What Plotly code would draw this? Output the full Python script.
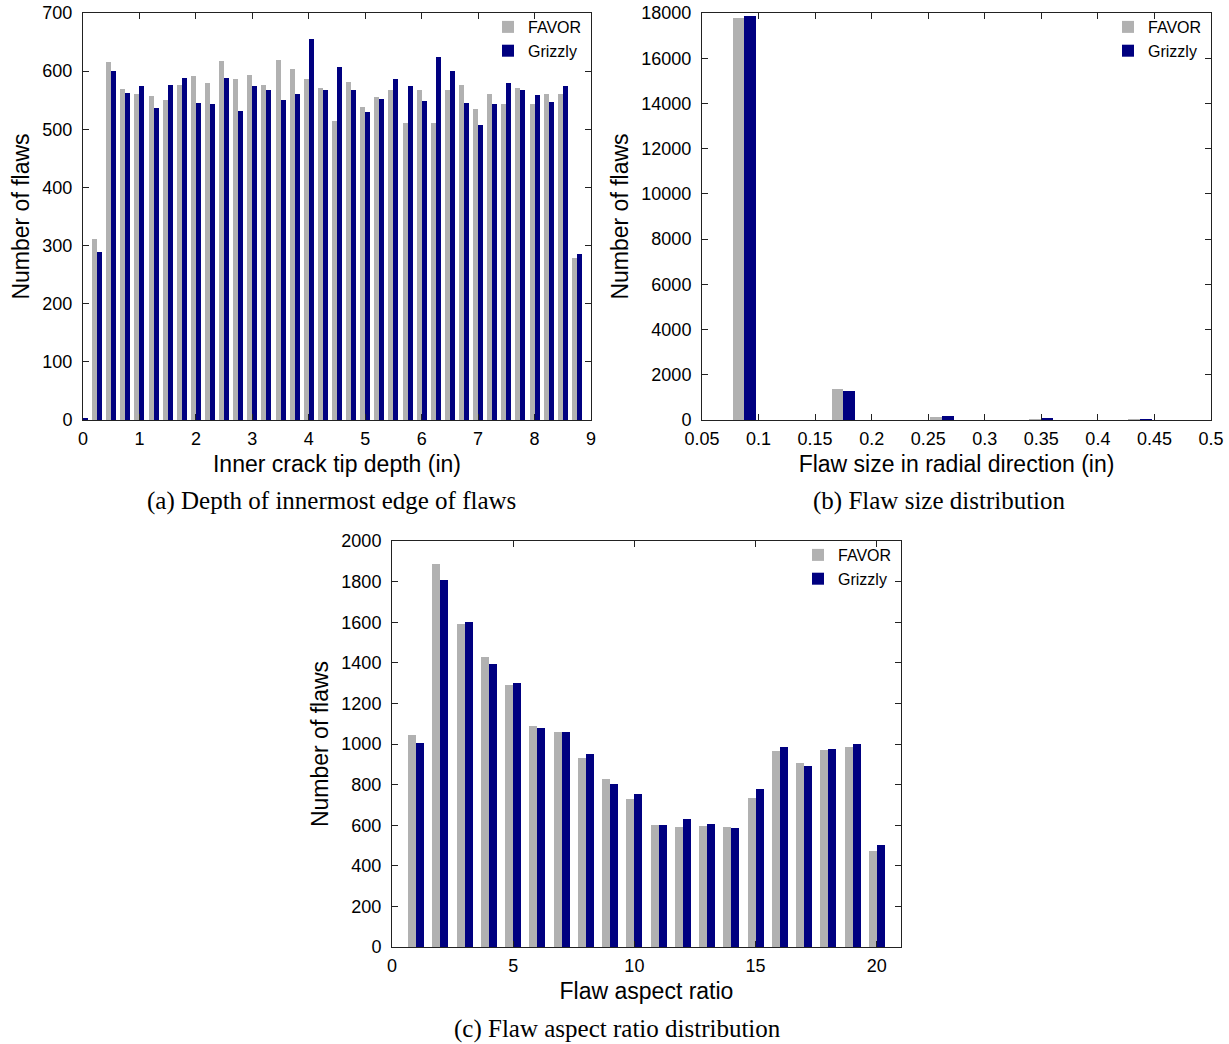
import plotly.graph_objects as go

# ---------------- data ----------------
# (a) inner crack tip depth histogram
depth_x = [0.0, 0.25, 0.5, 0.75, 1.0, 1.25, 1.5, 1.75, 2.0, 2.25, 2.5, 2.75, 3.0, 3.25, 3.5, 3.75,
           4.0, 4.25, 4.5, 4.75, 5.0, 5.25, 5.5, 5.75, 6.0, 6.25, 6.5, 6.75, 7.0, 7.25, 7.5, 7.75,
           8.0, 8.25, 8.5, 8.75]
depth_favor = [0, 312, 616, 570, 560, 558, 551, 576, 591, 580, 618, 586, 594, 576, 620, 603,
               586, 571, 515, 582, 538, 555, 568, 510, 567, 511, 567, 576, 535, 561, 544, 571,
               543, 560, 560, 279]
depth_grizzly = [3, 289, 600, 563, 575, 536, 576, 589, 545, 544, 589, 532, 574, 568, 550, 561,
                 656, 567, 607, 567, 530, 552, 586, 575, 549, 624, 600, 545, 508, 544, 580, 567,
                 559, 547, 574, 285]

# (b) flaw size in radial direction
size_x = [0.0875, 0.175, 0.2625, 0.35, 0.4375]
size_favor = [17770, 1364, 150, 40, 25]
size_grizzly = [17860, 1289, 165, 60, 35]

# (c) flaw aspect ratio
aspect_x = list(range(1, 21))
aspect_favor = [1045, 1889, 1590, 1429, 1291, 1090, 1060, 932, 829, 729,
                600, 592, 597, 591, 735, 968, 906, 970, 986, 474]
aspect_grizzly = [1007, 1807, 1600, 1395, 1300, 1080, 1057, 950, 802, 753,
                  600, 632, 605, 584, 778, 986, 893, 975, 1002, 504]

series_names = ["FAVOR", "Grizzly"]
captions = ["(a) Depth of innermost edge of flaws",
            "(b) Flaw size distribution",
            "(c) Flaw aspect ratio distribution"]

# ---------------- style ----------------
GRAY = "#b1b1b1"
NAVY = "#000080"
SANS = "Liberation Sans, Arial, sans-serif"
SERIF = "Liberation Serif, Times New Roman, serif"
W, H = 1229, 1044


def px_x(a, b):
    return [a / W, b / W]


def px_y(top, bottom):
    return [(H - bottom) / H, (H - top) / H]


fig = go.Figure()

panels = [
    dict(x=depth_x, f=depth_favor, g=depth_grizzly, w=0.088, xa="x", ya="y", lg="legend"),
    dict(x=size_x, f=size_favor, g=size_grizzly, w=0.0105, xa="x2", ya="y2", lg="legend2"),
    dict(x=aspect_x, f=aspect_favor, g=aspect_grizzly, w=0.33, xa="x3", ya="y3", lg="legend3"),
]

for p in panels:
    fig.add_trace(go.Bar(x=p["x"], y=p["f"], name=series_names[0], width=p["w"], offset=-p["w"],
                         marker=dict(color=GRAY, line=dict(width=0)),
                         xaxis=p["xa"], yaxis=p["ya"], legend=p["lg"]))
    fig.add_trace(go.Bar(x=p["x"], y=p["g"], name=series_names[1], width=p["w"], offset=0,
                         marker=dict(color=NAVY, line=dict(width=0)),
                         xaxis=p["xa"], yaxis=p["ya"], legend=p["lg"]))

axis_common = dict(showline=True, linecolor="#222", linewidth=1, mirror="ticks",
                   ticks="inside", ticklen=6, tickcolor="#222", tickwidth=1,
                   showgrid=False, zeroline=False, automargin=False,
                   tickfont=dict(family=SANS, size=18, color="black"))
xaxis_common = dict(ticklabelstandoff=2, **axis_common)
yaxis_common = dict(ticklabelstandoff=6, **axis_common)
title_font = dict(family=SANS, size=23, color="black")

legend_common = dict(bgcolor="rgba(0,0,0,0)", font=dict(family=SANS, size=16, color="black"),
                     xanchor="right", yanchor="top", itemwidth=30, tracegroupgap=0,
                     traceorder="normal")

fig.update_layout(
    width=W, height=H, margin=dict(l=0, r=0, t=0, b=0, autoexpand=False),
    paper_bgcolor="white", plot_bgcolor="white",
    barmode="overlay", bargap=0,
    xaxis=dict(domain=px_x(83, 591), range=[0, 9], dtick=1, tick0=0,
               title=dict(text="Inner crack tip depth (in)", font=title_font, standoff=8),
               anchor="y", **xaxis_common),
    yaxis=dict(domain=px_y(13, 420), range=[0, 700], dtick=100, tick0=0,
               title=dict(text="Number of flaws", font=title_font, standoff=6),
               anchor="x", **yaxis_common),
    xaxis2=dict(domain=px_x(702, 1211), range=[0.05, 0.5], dtick=0.05, tick0=0.05,
                title=dict(text="Flaw size in radial direction (in)", font=title_font, standoff=8),
                anchor="y2", **xaxis_common),
    yaxis2=dict(domain=px_y(13, 420), range=[0, 18000], dtick=2000, tick0=0, tickformat="d",
                title=dict(text="Number of flaws", font=title_font, standoff=6),
                anchor="x2", **yaxis_common),
    xaxis3=dict(domain=px_x(392, 901), range=[0, 21], tickvals=[0, 5, 10, 15, 20],
                title=dict(text="Flaw aspect ratio", font=title_font, standoff=8),
                anchor="y3", **xaxis_common),
    yaxis3=dict(domain=px_y(541, 947), range=[0, 2000], dtick=200, tick0=0,
                title=dict(text="Number of flaws", font=title_font, standoff=6),
                anchor="x3", **yaxis_common),
    legend=dict(x=587 / W, y=(H - 10) / H, **legend_common),
    legend2=dict(x=1207 / W, y=(H - 10) / H, **legend_common),
    legend3=dict(x=897 / W, y=(H - 538) / H, **legend_common),
)

cap_pos = [(331, 501), (939, 501), (618, 1029)]
for text, (cx, cy) in zip(captions, cap_pos):
    fig.add_annotation(text=text, x=cx / W, y=(H - cy) / H, xref="paper", yref="paper",
                       xanchor="center", yanchor="middle", showarrow=False,
                       font=dict(family=SERIF, size=25, color="black"))

fig.write_html("out.html")
